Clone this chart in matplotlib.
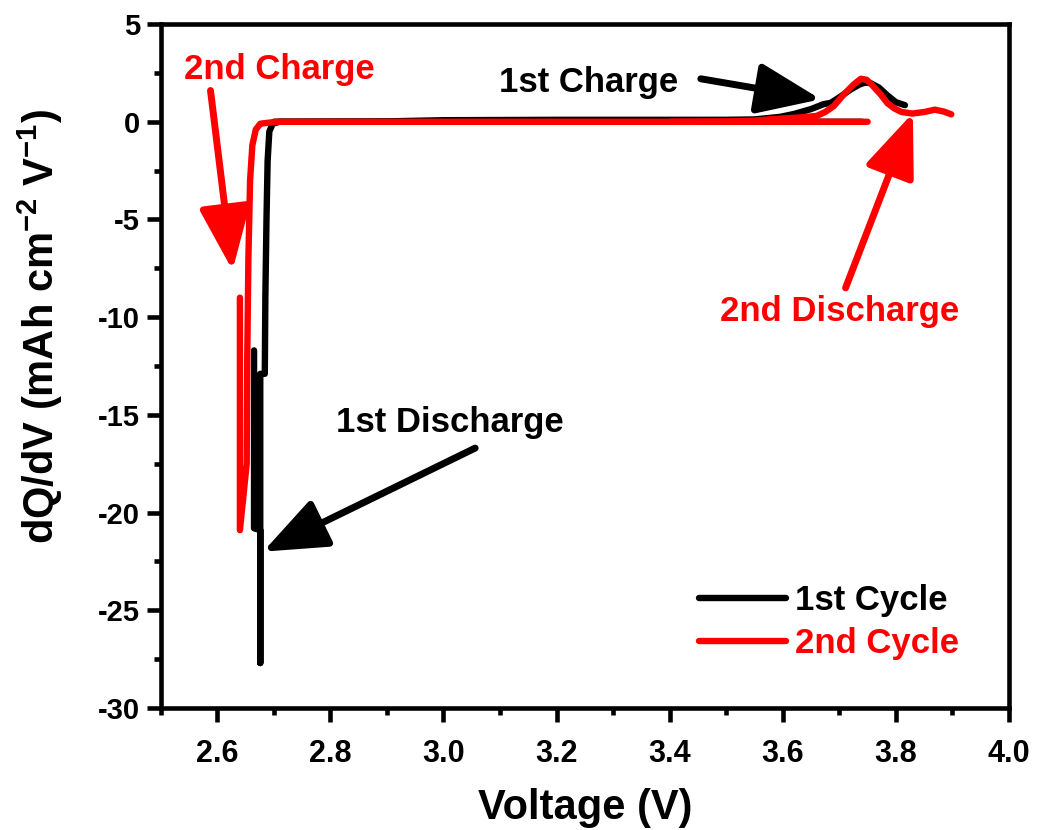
import matplotlib
matplotlib.use("Agg")
import matplotlib.pyplot as plt
from matplotlib.ticker import MultipleLocator

plt.rcParams["font.family"] = ["Liberation Sans", "DejaVu Sans"]
plt.rcParams["font.weight"] = "bold"
plt.rcParams["axes.unicode_minus"] = False
plt.rcParams["mathtext.fontset"] = "custom"
plt.rcParams["mathtext.rm"] = "Liberation Sans:bold"
plt.rcParams["mathtext.bf"] = "Liberation Sans:bold"
plt.rcParams["mathtext.default"] = "bf"

# 1st cycle: positive branch (charge peak) and negative branch (sharp spike)
c1_pos_v = [2.70, 2.90, 3.00, 3.20, 3.40, 3.50, 3.55, 3.595, 3.62, 3.65, 3.672, 3.685,
            3.70, 3.72, 3.735, 3.745, 3.755, 3.77, 3.785, 3.80, 3.816]
c1_pos_dq = [0.0, 0.02, 0.08, 0.10, 0.10, 0.10, 0.12, 0.25, 0.40, 0.65, 0.90, 0.97,
             1.25, 1.65, 1.90, 2.00, 1.98, 1.75, 1.35, 1.00, 0.85]
c1_neg_v = [3.74, 3.20, 2.80, 2.71, 2.698, 2.692, 2.689, 2.687, 2.685, 2.684, 2.676,
            2.676, 2.676, 2.665, 2.665]
c1_neg_dq = [0.0, 0.0, 0.0, 0.0, -0.1, -0.5, -2.0, -5.0, -9.0, -12.9, -12.9,
             -27.7, -20.9, -20.8, -11.7]

# 2nd cycle
c2_pos_v = [3.40, 3.50, 3.55, 3.589, 3.63, 3.66, 3.675, 3.69, 3.708, 3.725, 3.738,
            3.748, 3.756, 3.773, 3.785, 3.798, 3.81, 3.829, 3.85, 3.869, 3.885, 3.898]
c2_pos_dq = [0.0, 0.02, 0.06, 0.15, 0.22, 0.30, 0.50, 0.80, 1.40, 1.90, 2.20,
             2.15, 1.94, 1.40, 0.95, 0.67, 0.50, 0.42, 0.50, 0.62, 0.52, 0.38]
c2_neg_v = [3.75, 3.20, 2.80, 2.706, 2.690, 2.676, 2.668, 2.662, 2.658, 2.655, 2.653,
            2.652, 2.640, 2.640]
c2_neg_dq = [0.0, 0.0, 0.0, 0.0, -0.05, -0.1, -0.4, -1.2, -3.0, -7.0, -12.0,
             -17.5, -20.9, -9.0]

NARROW = ["Liberation Sans Narrow", "Liberation Sans", "DejaVu Sans"]
LW = 4.6
fig = plt.figure(figsize=(10.37, 8.30), dpi=100)
ax = fig.add_axes([0.155, 0.147, 0.818, 0.824])

kw = dict(lw=LW, solid_capstyle="round", solid_joinstyle="round")
ax.plot(c1_neg_v, c1_neg_dq, color="black", label="1st Cycle", **kw)
ax.plot(c1_pos_v, c1_pos_dq, color="black", **kw)
ax.plot(c2_neg_v, c2_neg_dq, color="red", label="2nd Cycle", **kw)
ax.plot(c2_pos_v, c2_pos_dq, color="red", **kw)

ax.set_xlim(2.5, 4.0)
ax.set_ylim(-30, 5)
ax.xaxis.set_minor_locator(MultipleLocator(0.1))
ax.yaxis.set_major_locator(MultipleLocator(5))
ax.yaxis.set_minor_locator(MultipleLocator(2.5))
ax.set_xticks([2.6, 2.8, 3.0, 3.2, 3.4, 3.6, 3.8, 4.0])
ax.set_xticklabels(["2.6", "2.8", "3.0", "3.2", "3.4", "3.6", "3.8", "4.0"],
                   family=NARROW, fontsize=22, fontweight="bold")

for s in ax.spines.values():
    s.set_linewidth(3.3)
ax.tick_params(which="major", direction="out", length=10, width=3.3, pad=5)
ax.tick_params(which="minor", direction="out", length=5, width=3.3)
ax.tick_params(axis="x", pad=12)
ax.tick_params(axis="y", labelsize=21)
for lab in ax.get_yticklabels():
    lab.set_fontweight("bold")

ax.set_xlabel("Voltage (V)", fontsize=30, fontweight="bold", labelpad=14, family=NARROW)
ax.set_ylabel(r"dQ/dV (mAh cm$^{-2}$ V$^{-1}$)", fontsize=30, fontweight="bold")
ax.yaxis.set_label_coords(-0.113, 0.557)

arrow = dict(arrowstyle="-|>,head_length=1.5,head_width=0.6", lw=5,
             mutation_scale=26, shrinkA=0, shrinkB=0)
ax.annotate("", xy=(2.627, -7.6), xytext=(2.588, 1.6),
            arrowprops=dict(color="red", **arrow))
ax.annotate("", xy=(3.667, 1.15), xytext=(3.455, 2.2),
            arrowprops=dict(color="black", **arrow))
ax.annotate("", xy=(2.681, -22.0), xytext=(3.056, -16.7),
            arrowprops=dict(color="black", **arrow))
ax.annotate("", xy=(3.830, 0.45), xytext=(3.711, -8.5),
            arrowprops=dict(color="red", **arrow))

tkw = dict(fontsize=25, fontweight="bold", ha="center", va="center")
ax.text(2.71, 2.65, "2nd Charge", color="red", **tkw)
ax.text(3.257, 2.0, "1st Charge", color="black", **tkw)
ax.text(3.012, -15.4, "1st Discharge", color="black", **tkw)
ax.text(3.70, -9.7, "2nd Discharge", color="red", **tkw)

leg = ax.legend(loc="lower right", frameon=False, fontsize=25, handlelength=2.5,
                handletextpad=0.25, labelspacing=0.3, bbox_to_anchor=(0.978, 0.024))
for t, c in zip(leg.get_texts(), ["black", "red"]):
    t.set_color(c)
    t.set_fontweight("bold")

fig.savefig("out.png", dpi=100)
